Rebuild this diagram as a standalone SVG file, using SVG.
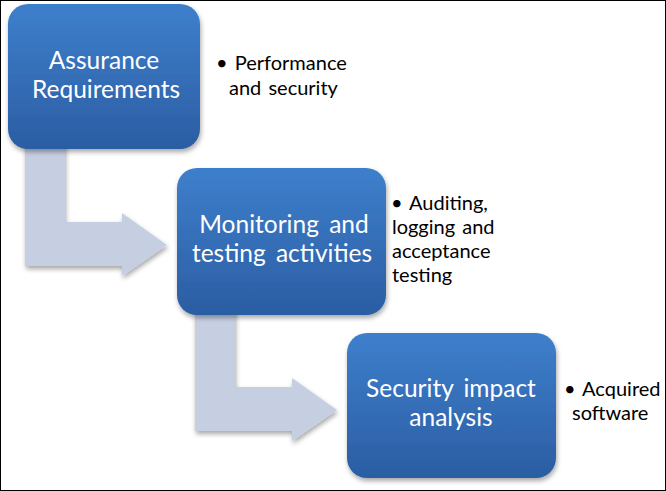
<svg xmlns="http://www.w3.org/2000/svg" width="666" height="491" viewBox="0 0 666 491">
<defs>
<linearGradient id="g" x1="0" y1="0" x2="0" y2="1">
<stop offset="0" stop-color="#3e7fcc"/>
<stop offset="1" stop-color="#2b5da3"/>
</linearGradient>
<filter id="sh" x="-10%" y="-10%" width="125%" height="125%">
<feGaussianBlur in="SourceAlpha" stdDeviation="2.5"/>
<feOffset dx="1" dy="3" result="b"/>
<feComponentTransfer><feFuncA type="linear" slope="0.35"/></feComponentTransfer>
<feMerge><feMergeNode/><feMergeNode in="SourceGraphic"/></feMerge>
</filter>
</defs>
<style>
.box{fill:url(#g);filter:url(#sh)}
.bt{font-family:Lato,"Open Sans",sans-serif;font-size:24.5px;word-spacing:4px;fill:#fff;text-anchor:middle}
.lt{font-family:Lato,"Open Sans",sans-serif;font-size:20px;word-spacing:2px;fill:#000}
.arr{fill:#c6cfe2;filter:url(#sh)}
</style>
<rect x="0.5" y="0.5" width="665" height="490" fill="#fff" stroke="#000"/>
<g id="connectors">
<path class="arr" d="M25,140 H65 V222 H122 V213 L167,245 L122,276 V266 H25 Z"/>
<path class="arr" d="M195,305 H235 V387 H292 V378 L337,410 L292,441 V431 H195 Z"/>
</g>
<g id="n1">
<rect class="box" x="8" y="4" width="192" height="145" rx="20"/>
<text class="bt" x="104" y="69">Assurance</text>
<text class="bt" x="106" y="98">Requirements</text>
</g>
<g id="n1note">
<text class="lt" x="216" y="70">• Performance</text>
<text class="lt" x="229" y="95">and security</text>
</g>
<g id="n2">
<rect class="box" x="177" y="168" width="209" height="147" rx="20"/>
<text class="bt" x="284" y="233">Monitoring and</text>
<text class="bt" x="282" y="262">testing activities</text>
</g>
<g id="n2note">
<text class="lt" x="391" y="210">• Auditing,</text>
<text class="lt" x="392" y="234">logging and</text>
<text class="lt" x="392" y="258">acceptance</text>
<text class="lt" x="392" y="282">testing</text>
</g>
<g id="n3">
<rect class="box" x="347" y="333" width="209" height="145" rx="20"/>
<text class="bt" x="451" y="397">Security impact</text>
<text class="bt" x="451" y="426">analysis</text>
</g>
<g id="n3note">
<text class="lt" x="564" y="396">• Acquired</text>
<text class="lt" x="572" y="420">software</text>
</g>
</svg>
